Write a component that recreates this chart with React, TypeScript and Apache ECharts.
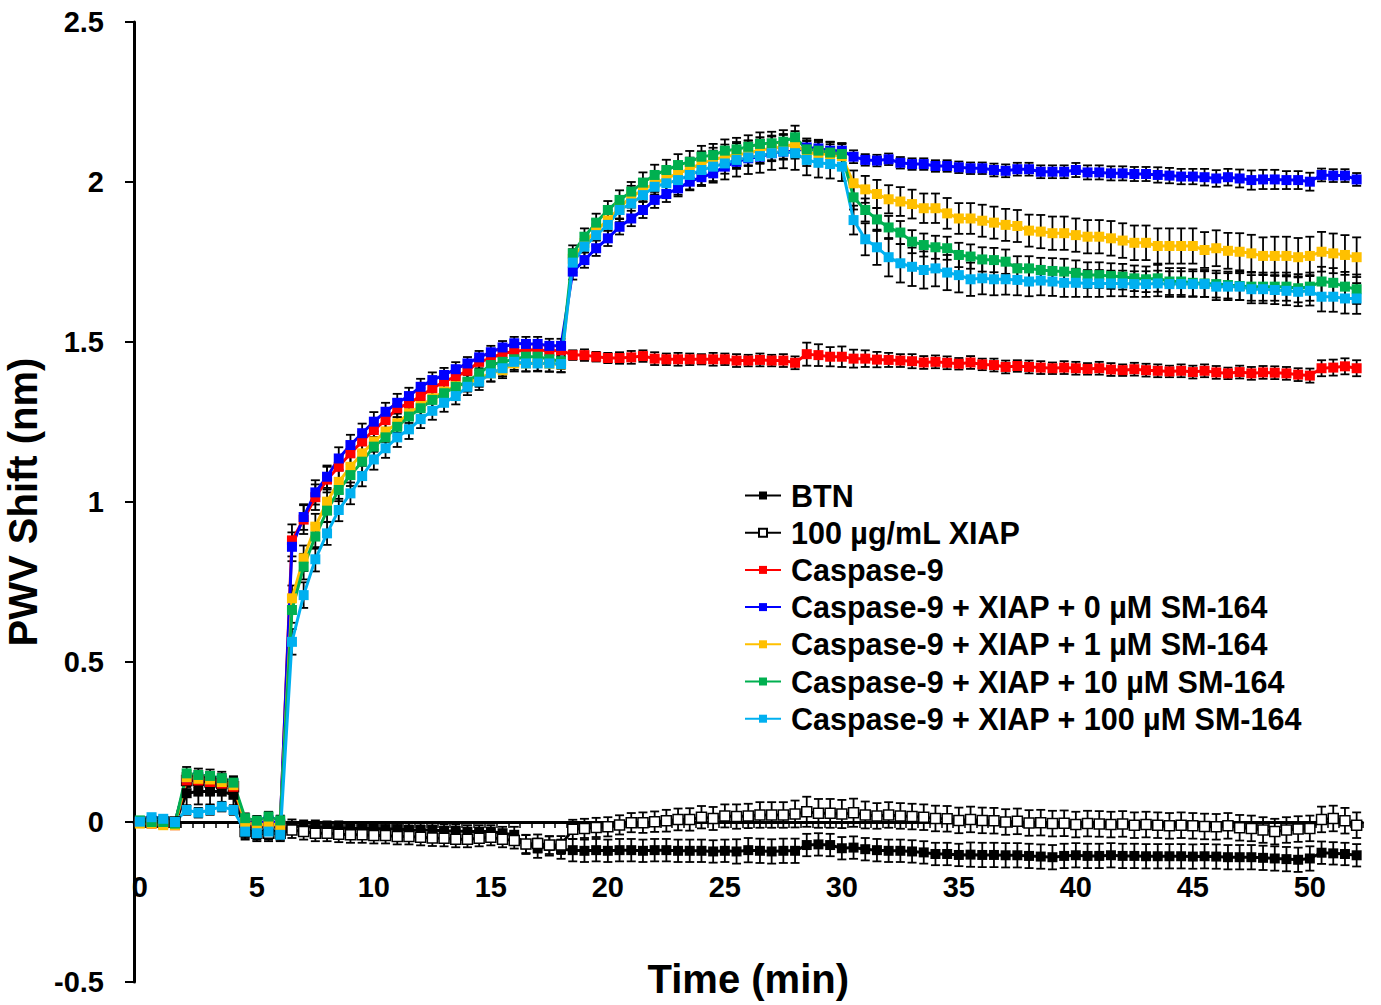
import React, { useEffect, useRef } from "react";
import * as echarts from "echarts";

// Sampling grid: one reading every 0.5 min, 0 .. 52 min
const times: string[] = Array.from({ length: 105 }, (_, i) => String(i * 0.5));

const seriesNames = [
  "BTN",
  "100 µg/mL XIAP",
  "Caspase-9",
  "Caspase-9 + XIAP + 0 µM SM-164",
  "Caspase-9 + XIAP + 1 µM SM-164",
  "Caspase-9 + XIAP + 10 µM SM-164",
  "Caspase-9 + XIAP + 100 µM SM-164",
];
const seriesColors = ["#000000", "#000000", "#FF0000", "#0000FF", "#FFC000", "#00B050", "#00B0F0"];

const btn = [
  0, 0, 0, -0.005,
  0.09, 0.095, 0.095, 0.095, 0.085,
  -0.025, -0.03, -0.03, -0.03,
  -0.012, -0.015, -0.015, -0.018, -0.018, -0.02, -0.02, -0.02, -0.022, -0.022, -0.025, -0.025, -0.025, -0.028, -0.028, -0.03, -0.03, -0.03, -0.035, -0.04, -0.07, -0.082, -0.075, -0.085,
  -0.088, -0.09, -0.088, -0.09, -0.088, -0.088, -0.09, -0.088, -0.088, -0.09, -0.09, -0.09, -0.092, -0.09, -0.092, -0.088, -0.09, -0.092, -0.09, -0.09, -0.072, -0.07, -0.072, -0.082,
  -0.08, -0.085, -0.088, -0.09, -0.09, -0.092, -0.095, -0.1, -0.1, -0.103, -0.102, -0.103, -0.103, -0.104, -0.104, -0.106, -0.108, -0.11, -0.106, -0.104, -0.106, -0.106, -0.104, -0.106, -0.106, -0.107, -0.107, -0.107, -0.107, -0.108, -0.107, -0.108, -0.11, -0.11, -0.11, -0.112, -0.114, -0.116, -0.118, -0.114, -0.096, -0.098, -0.1, -0.104,
];
const xiap = [
  0, 0, 0, 0,
  0.13, 0.13, 0.125, 0.12, 0.11,
  -0.03, -0.035, -0.035, -0.035,
  -0.025, -0.03, -0.035, -0.035, -0.038, -0.04, -0.04, -0.042, -0.042, -0.045, -0.045, -0.048, -0.05, -0.051, -0.054, -0.054, -0.051, -0.048, -0.054, -0.058, -0.069, -0.067, -0.072, -0.072,
  -0.023, -0.02, -0.017, -0.015, -0.009, -0.002, -0.002, 0.001, 0.004, 0.008, 0.008, 0.015, 0.011, 0.019, 0.017, 0.019, 0.022, 0.022, 0.022, 0.025, 0.032, 0.027, 0.027, 0.025,
  0.029, 0.022, 0.019, 0.022, 0.019, 0.017, 0.015, 0.011, 0.01, 0.005, 0.008, 0.005, 0.004, 0.0, 0.002, -0.003, -0.002, -0.005, -0.004, -0.008, -0.005, -0.006, -0.008, -0.006, -0.01, -0.008, -0.01, -0.012, -0.01, -0.012, -0.014, -0.015, -0.012, -0.018, -0.02, -0.025, -0.03, -0.025, -0.022, -0.02, 0.008, 0.011, 0.004, -0.01,
];
const casp9 = [
  0, -0.005, -0.005, -0.01,
  0.13, 0.13, 0.125, 0.12, 0.11,
  -0.005, -0.01, -0.005, -0.01,
  0.88, 0.945, 1.015, 1.07, 1.11, 1.152, 1.189, 1.225, 1.256, 1.293, 1.308, 1.331, 1.355, 1.376, 1.392, 1.41, 1.438, 1.449, 1.465, 1.47, 1.475, 1.476, 1.472, 1.474,
  1.459, 1.459, 1.454, 1.45, 1.45, 1.452, 1.456, 1.448, 1.446, 1.446, 1.446, 1.446, 1.446, 1.446, 1.442, 1.442, 1.444, 1.442, 1.442, 1.435, 1.462, 1.459, 1.454, 1.454,
  1.448, 1.448, 1.445, 1.444, 1.442, 1.44, 1.436, 1.438, 1.435, 1.432, 1.436, 1.43, 1.428, 1.422, 1.425, 1.422, 1.42, 1.418, 1.42, 1.418, 1.416, 1.418, 1.414, 1.412, 1.415, 1.412, 1.41, 1.408, 1.41, 1.406, 1.41, 1.405, 1.402, 1.406, 1.402, 1.405, 1.404, 1.402, 1.398, 1.395, 1.418, 1.42, 1.424, 1.418,
];
const sm0 = [
  0, 0.005, 0, -0.005,
  0.14, 0.14, 0.135, 0.13, 0.12,
  0, -0.005, 0.005, -0.005,
  0.86, 0.953, 1.03, 1.079, 1.136, 1.178, 1.215, 1.251, 1.282, 1.31, 1.331, 1.36, 1.381, 1.397, 1.415, 1.433, 1.452, 1.468, 1.483, 1.496, 1.494, 1.494, 1.488, 1.488,
  1.72, 1.756, 1.793, 1.824, 1.86, 1.886, 1.9125, 1.944, 1.9625, 1.98, 2.001, 2.015, 2.027, 2.048, 2.063, 2.074, 2.079, 2.09, 2.095, 2.095, 2.108, 2.105, 2.098, 2.098,
  2.079, 2.069, 2.067, 2.071, 2.06, 2.056, 2.056, 2.05, 2.05, 2.046, 2.043, 2.043, 2.0375, 2.035, 2.04, 2.04, 2.032, 2.032, 2.032, 2.0375, 2.03, 2.03, 2.027, 2.027, 2.025, 2.025, 2.022, 2.02, 2.017, 2.017, 2.015, 2.011, 2.015, 2.011, 2.006, 2.008, 2.008, 2.006, 2.006, 2.001, 2.022, 2.02, 2.02, 2.008,
];
const sm1 = [
  -0.005, -0.005, -0.01, -0.01,
  0.14, 0.135, 0.133, 0.125, 0.115,
  0, -0.01, -0.005, -0.01,
  0.699, 0.824, 0.923, 1.001, 1.063, 1.11, 1.152, 1.189, 1.22, 1.246, 1.277, 1.3, 1.324, 1.345, 1.362, 1.371, 1.386, 1.402, 1.412, 1.433, 1.433, 1.435, 1.432, 1.43,
  1.76, 1.81, 1.85, 1.88, 1.92, 1.954, 1.975, 1.996, 2.011, 2.027, 2.04, 2.058, 2.069, 2.079, 2.085, 2.09, 2.1, 2.105, 2.11, 2.119, 2.09, 2.09, 2.085, 2.081,
  1.996, 1.977, 1.9625, 1.946, 1.939, 1.931, 1.918, 1.918, 1.902, 1.886, 1.886, 1.879, 1.873, 1.866, 1.8625, 1.848, 1.845, 1.84, 1.84, 1.834, 1.829, 1.829, 1.824, 1.817, 1.81, 1.81, 1.8, 1.8, 1.8, 1.8, 1.7875, 1.793, 1.785, 1.782, 1.777, 1.769, 1.769, 1.769, 1.765, 1.769, 1.782, 1.777, 1.772, 1.765,
];
const sm10 = [
  0.005, 0, 0, -0.005,
  0.152, 0.147, 0.144, 0.137, 0.123,
  0.012, 0.004, 0.017, 0.005,
  0.6625, 0.798, 0.892, 0.973, 1.0375, 1.084, 1.126, 1.173, 1.202, 1.235, 1.267, 1.293, 1.319, 1.34, 1.36, 1.376, 1.402, 1.428, 1.438, 1.446, 1.454, 1.454, 1.446, 1.44,
  1.777, 1.829, 1.873, 1.9125, 1.944, 1.97, 1.998, 2.022, 2.0375, 2.053, 2.063, 2.079, 2.084, 2.098, 2.102, 2.11, 2.119, 2.121, 2.126, 2.14, 2.102, 2.098, 2.092, 2.0875,
  1.952, 1.9125, 1.883, 1.858, 1.842, 1.8135, 1.803, 1.796, 1.793, 1.772, 1.767, 1.758, 1.756, 1.751, 1.73, 1.73, 1.725, 1.722, 1.72, 1.715, 1.709, 1.709, 1.706, 1.704, 1.699, 1.696, 1.699, 1.689, 1.689, 1.685, 1.683, 1.681, 1.678, 1.675, 1.673, 1.673, 1.673, 1.673, 1.668, 1.673, 1.689, 1.685, 1.673, 1.665,
];
const sm100 = [
  0.001, 0.015, 0.01, 0,
  0.0375, 0.029, 0.0375, 0.048, 0.0375,
  -0.03, -0.035, -0.03, -0.04,
  0.563, 0.709, 0.821, 0.902, 0.975, 1.027, 1.081, 1.133, 1.168, 1.202, 1.227, 1.259, 1.285, 1.31, 1.331, 1.36, 1.376, 1.402, 1.418, 1.438, 1.433, 1.433, 1.433, 1.431,
  1.748, 1.798, 1.834, 1.866, 1.9125, 1.933, 1.959, 1.985, 1.996, 2.006, 2.022, 2.0375, 2.048, 2.058, 2.069, 2.077, 2.081, 2.09, 2.095, 2.09, 2.069, 2.06, 2.056, 2.048,
  1.881, 1.821, 1.796, 1.765, 1.746, 1.735, 1.725, 1.73, 1.717, 1.709, 1.696, 1.699, 1.696, 1.696, 1.694, 1.689, 1.692, 1.689, 1.685, 1.685, 1.683, 1.683, 1.683, 1.683, 1.681, 1.681, 1.683, 1.681, 1.681, 1.681, 1.681, 1.673, 1.673, 1.673, 1.665, 1.665, 1.6625, 1.66, 1.657, 1.66, 1.6415, 1.6415, 1.636, 1.636,
];

// Standard deviations (error bars)
const errBtn = [
  0.01, 0.01, 0.01, 0.01,
  0.04, 0.04, 0.04, 0.04, 0.04,
  0.03, 0.03, 0.03, 0.03,
  0.02, 0.02, 0.02, 0.02, 0.02, 0.02, 0.02, 0.02, 0.02, 0.02, 0.02, 0.02, 0.02, 0.02, 0.02, 0.02, 0.02, 0.02, 0.02, 0.025, 0.03, 0.03, 0.03, 0.03,
  0.035, 0.035, 0.035, 0.035, 0.035, 0.035, 0.035, 0.035, 0.035, 0.035, 0.035, 0.035, 0.035, 0.035, 0.038, 0.038, 0.038, 0.038, 0.038, 0.038, 0.035, 0.035, 0.035, 0.035,
  0.035, 0.035, 0.035, 0.035, 0.035, 0.035, 0.035, 0.035, 0.035, 0.035, 0.038, 0.038, 0.038, 0.038, 0.038, 0.038, 0.038, 0.038, 0.038, 0.038, 0.038, 0.038, 0.038, 0.038, 0.038, 0.038, 0.038, 0.038, 0.038, 0.038, 0.038, 0.038, 0.038, 0.038, 0.038, 0.038, 0.038, 0.038, 0.038, 0.038, 0.035, 0.035, 0.035, 0.035,
];
const errXiap = [
  0.01, 0.01, 0.01, 0.01,
  0.02, 0.02, 0.02, 0.02, 0.02,
  0.02, 0.02, 0.02, 0.02,
  0.025, 0.025, 0.025, 0.025, 0.025, 0.025, 0.025, 0.025, 0.025, 0.025, 0.025, 0.025, 0.025, 0.025, 0.025, 0.025, 0.025, 0.025, 0.025, 0.025, 0.028, 0.028, 0.028, 0.028,
  0.03, 0.03, 0.03, 0.03, 0.03, 0.03, 0.032, 0.032, 0.034, 0.034, 0.035, 0.035, 0.036, 0.036, 0.038, 0.038, 0.04, 0.04, 0.04, 0.042, 0.047, 0.045, 0.045, 0.044,
  0.044, 0.042, 0.04, 0.04, 0.04, 0.04, 0.04, 0.04, 0.04, 0.04, 0.04, 0.04, 0.04, 0.04, 0.04, 0.04, 0.04, 0.04, 0.04, 0.04, 0.04, 0.04, 0.04, 0.04, 0.04, 0.04, 0.04, 0.04, 0.04, 0.04, 0.04, 0.04, 0.04, 0.04, 0.04, 0.04, 0.04, 0.04, 0.04, 0.04, 0.04, 0.04, 0.04, 0.04,
];
const errCasp9 = [
  0.01, 0.01, 0.01, 0.01,
  0.02, 0.02, 0.02, 0.02, 0.02,
  0.015, 0.015, 0.015, 0.015,
  0.05, 0.045, 0.04, 0.04, 0.035, 0.035, 0.03, 0.03, 0.03, 0.028, 0.028, 0.025, 0.025, 0.025, 0.022, 0.022, 0.02, 0.02, 0.02, 0.02, 0.02, 0.02, 0.02, 0.02,
  0.015, 0.018, 0.015, 0.016, 0.018, 0.02, 0.018, 0.02, 0.018, 0.02, 0.018, 0.016, 0.02, 0.018, 0.02, 0.018, 0.02, 0.018, 0.02, 0.02, 0.036, 0.034, 0.03, 0.032,
  0.028, 0.026, 0.024, 0.022, 0.02, 0.022, 0.02, 0.02, 0.02, 0.018, 0.02, 0.018, 0.02, 0.02, 0.018, 0.02, 0.02, 0.018, 0.02, 0.02, 0.018, 0.02, 0.02, 0.018, 0.02, 0.02, 0.02, 0.018, 0.02, 0.02, 0.02, 0.02, 0.018, 0.02, 0.02, 0.02, 0.02, 0.02, 0.02, 0.022, 0.025, 0.025, 0.025, 0.025,
];
const errSm0 = [
  0.01, 0.01, 0.01, 0.01,
  0.02, 0.02, 0.02, 0.02, 0.02,
  0.015, 0.015, 0.015, 0.015,
  0.045, 0.04, 0.038, 0.035, 0.035, 0.032, 0.03, 0.03, 0.028, 0.028, 0.026, 0.025, 0.024, 0.022, 0.022, 0.02, 0.02, 0.02, 0.02, 0.02, 0.022, 0.022, 0.022, 0.022,
  0.025, 0.024, 0.024, 0.024, 0.024, 0.024, 0.025, 0.025, 0.025, 0.025, 0.024, 0.024, 0.024, 0.022, 0.022, 0.022, 0.022, 0.022, 0.022, 0.022, 0.02, 0.02, 0.02, 0.02,
  0.02, 0.018, 0.018, 0.018, 0.018, 0.018, 0.018, 0.018, 0.018, 0.018, 0.018, 0.018, 0.02, 0.02, 0.02, 0.02, 0.02, 0.02, 0.02, 0.022, 0.022, 0.022, 0.022, 0.022, 0.022, 0.022, 0.024, 0.024, 0.024, 0.024, 0.026, 0.026, 0.026, 0.028, 0.03, 0.03, 0.03, 0.028, 0.028, 0.028, 0.02, 0.02, 0.02, 0.02,
];
const errSm1 = [
  0.01, 0.01, 0.01, 0.01,
  0.02, 0.02, 0.02, 0.02, 0.02,
  0.015, 0.015, 0.015, 0.015,
  0.04, 0.04, 0.04, 0.038, 0.036, 0.035, 0.034, 0.032, 0.032, 0.03, 0.03, 0.03, 0.028, 0.028, 0.028, 0.026, 0.026, 0.026, 0.025, 0.025, 0.025, 0.025, 0.025, 0.025,
  0.03, 0.03, 0.032, 0.032, 0.034, 0.034, 0.035, 0.035, 0.036, 0.036, 0.036, 0.038, 0.038, 0.038, 0.04, 0.04, 0.04, 0.04, 0.04, 0.04, 0.04, 0.04, 0.04, 0.04,
  0.04, 0.042, 0.044, 0.044, 0.045, 0.045, 0.046, 0.046, 0.048, 0.048, 0.048, 0.05, 0.05, 0.05, 0.05, 0.05, 0.052, 0.052, 0.052, 0.052, 0.052, 0.052, 0.054, 0.054, 0.054, 0.054, 0.055, 0.055, 0.055, 0.055, 0.056, 0.056, 0.056, 0.058, 0.058, 0.058, 0.06, 0.06, 0.06, 0.06, 0.062, 0.062, 0.062, 0.062,
];
const errSm10 = [
  0.01, 0.01, 0.01, 0.01,
  0.02, 0.02, 0.02, 0.02, 0.02,
  0.015, 0.015, 0.015, 0.015,
  0.04, 0.04, 0.038, 0.036, 0.035, 0.034, 0.032, 0.03, 0.03, 0.03, 0.028, 0.028, 0.028, 0.026, 0.026, 0.025, 0.025, 0.025, 0.024, 0.024, 0.024, 0.024, 0.024, 0.024,
  0.025, 0.026, 0.028, 0.028, 0.03, 0.03, 0.032, 0.032, 0.032, 0.034, 0.034, 0.034, 0.035, 0.035, 0.036, 0.036, 0.036, 0.036, 0.036, 0.036, 0.034, 0.034, 0.034, 0.034,
  0.038, 0.036, 0.036, 0.036, 0.036, 0.036, 0.036, 0.036, 0.036, 0.038, 0.038, 0.038, 0.038, 0.038, 0.038, 0.038, 0.038, 0.04, 0.04, 0.04, 0.04, 0.04, 0.04, 0.04, 0.04, 0.04, 0.042, 0.042, 0.042, 0.042, 0.042, 0.042, 0.042, 0.044, 0.044, 0.044, 0.044, 0.044, 0.044, 0.044, 0.046, 0.046, 0.046, 0.046,
];
const errSm100 = [
  0.01, 0.01, 0.01, 0.01,
  0.015, 0.015, 0.015, 0.015, 0.015,
  0.015, 0.015, 0.015, 0.015,
  0.04, 0.04, 0.038, 0.036, 0.035, 0.034, 0.032, 0.032, 0.03, 0.03, 0.03, 0.028, 0.028, 0.028, 0.026, 0.026, 0.026, 0.025, 0.025, 0.025, 0.025, 0.025, 0.025, 0.025,
  0.03, 0.032, 0.034, 0.036, 0.038, 0.04, 0.042, 0.044, 0.045, 0.046, 0.048, 0.05, 0.05, 0.05, 0.052, 0.052, 0.052, 0.052, 0.052, 0.052, 0.048, 0.046, 0.045, 0.045,
  0.045, 0.05, 0.055, 0.06, 0.06, 0.06, 0.058, 0.056, 0.055, 0.054, 0.052, 0.05, 0.05, 0.048, 0.048, 0.046, 0.046, 0.045, 0.044, 0.044, 0.042, 0.042, 0.04, 0.04, 0.04, 0.04, 0.04, 0.04, 0.04, 0.04, 0.04, 0.042, 0.042, 0.042, 0.044, 0.044, 0.044, 0.045, 0.045, 0.046, 0.046, 0.047, 0.047, 0.048,
];

const yTicks = { min: -0.5, max: 2.5, interval: 0.5 };

const FONT = "'Liberation Sans', Arial, Helvetica, sans-serif";

export default function App() {
  const ref = useRef<HTMLDivElement>(null);

  useEffect(() => {
    if (!ref.current) return;
    const chart = echarts.init(ref.current, null, { renderer: "svg" });

    const values = [btn, xiap, casp9, sm0, sm1, sm10, sm100];
    const errors = [errBtn, errXiap, errCasp9, errSm0, errSm1, errSm10, errSm100];

    const renderErr = (params: any, api: any) => {
      const x = api.value(0);
      const lo = api.coord([x, api.value(1)]);
      const hi = api.coord([x, api.value(2)]);
      const hw = 4.5;
      const style = { stroke: "#000", lineWidth: 1.8, fill: "none" };
      return {
        type: "group",
        children: [
          { type: "line", shape: { x1: lo[0], y1: lo[1], x2: hi[0], y2: hi[1] }, style },
          { type: "line", shape: { x1: lo[0] - hw, y1: lo[1], x2: lo[0] + hw, y2: lo[1] }, style },
          { type: "line", shape: { x1: hi[0] - hw, y1: hi[1], x2: hi[0] + hw, y2: hi[1] }, style },
        ],
      };
    };

    const series: any[] = [];
    values.forEach((vals, k) => {
      series.push({
        type: "custom",
        name: seriesNames[k] + " (SD)",
        silent: true,
        renderItem: renderErr,
        encode: { x: 0, y: [1, 2] },
        data: vals.map((v, i) => [i, v - errors[k][i], v + errors[k][i]]),
      });
      series.push({
        type: "line",
        name: seriesNames[k],
        data: vals,
        symbol: "rect",
        symbolSize: 10,
        showAllSymbol: true,
        showSymbol: true,
        lineStyle: { color: seriesColors[k], width: 3 },
        itemStyle:
          k === 1
            ? { color: "#ffffff", borderColor: "#000000", borderWidth: 1.5 }
            : { color: seriesColors[k] },
        emphasis: { disabled: true },
      });
    });

    chart.setOption({
      animation: false,
      backgroundColor: "#ffffff",
      grid: { left: 134, right: 18.5, top: 22, bottom: 23, outerBoundsMode: "none" },
      legend: {
        data: seriesNames,
        orient: "vertical",
        left: 739,
        top: 475,
        itemWidth: 36,
        itemHeight: 10,
        itemGap: 6.2,
        selectedMode: false,
        textStyle: {
          fontSize: 30.5,
          fontWeight: "bold",
          fontFamily: FONT,
          color: "#000",
          lineHeight: 30,
          padding: [0, 0, 0, 5],
        },
      },
      xAxis: {
        type: "category",
        data: times,
        boundaryGap: true,
        position: "bottom",
        offset: -160,
        name: "Time (min)",
        nameLocation: "middle",
        nameGap: 137,
        nameTextStyle: { fontSize: 40, fontWeight: "bold", fontFamily: FONT, color: "#000" },
        axisLine: { onZero: false, lineStyle: { color: "#000", width: 3 } },
        axisTick: { show: true, interval: 0, length: 6, lineStyle: { color: "#000", width: 1.5 } },
        axisLabel: {
          interval: 9,
          margin: 50,
          fontSize: 29,
          fontWeight: "bold",
          fontFamily: FONT,
          color: "#000",
        },
        splitLine: { show: false },
      },
      yAxis: {
        type: "value",
        min: yTicks.min,
        max: yTicks.max,
        interval: yTicks.interval,
        name: "PWV Shift (nm)",
        nameLocation: "middle",
        nameGap: 83,
        nameRotate: 90,
        nameTextStyle: { fontSize: 40, fontWeight: "bold", fontFamily: FONT, color: "#000" },
        axisLine: { show: true, onZero: false, lineStyle: { color: "#000", width: 3 } },
        axisTick: { show: true, length: 9, lineStyle: { color: "#000", width: 2 } },
        axisLabel: {
          margin: 30,
          fontSize: 29,
          fontWeight: "bold",
          fontFamily: FONT,
          color: "#000",
        },
        splitLine: { show: false },
      },
      series,
    });

    return () => chart.dispose();
  }, []);

  return (
    <div
      ref={ref}
      style={{ position: "absolute", left: 0, top: 0, width: 1381, height: 1005, background: "#fff" }}
    />
  );
}
